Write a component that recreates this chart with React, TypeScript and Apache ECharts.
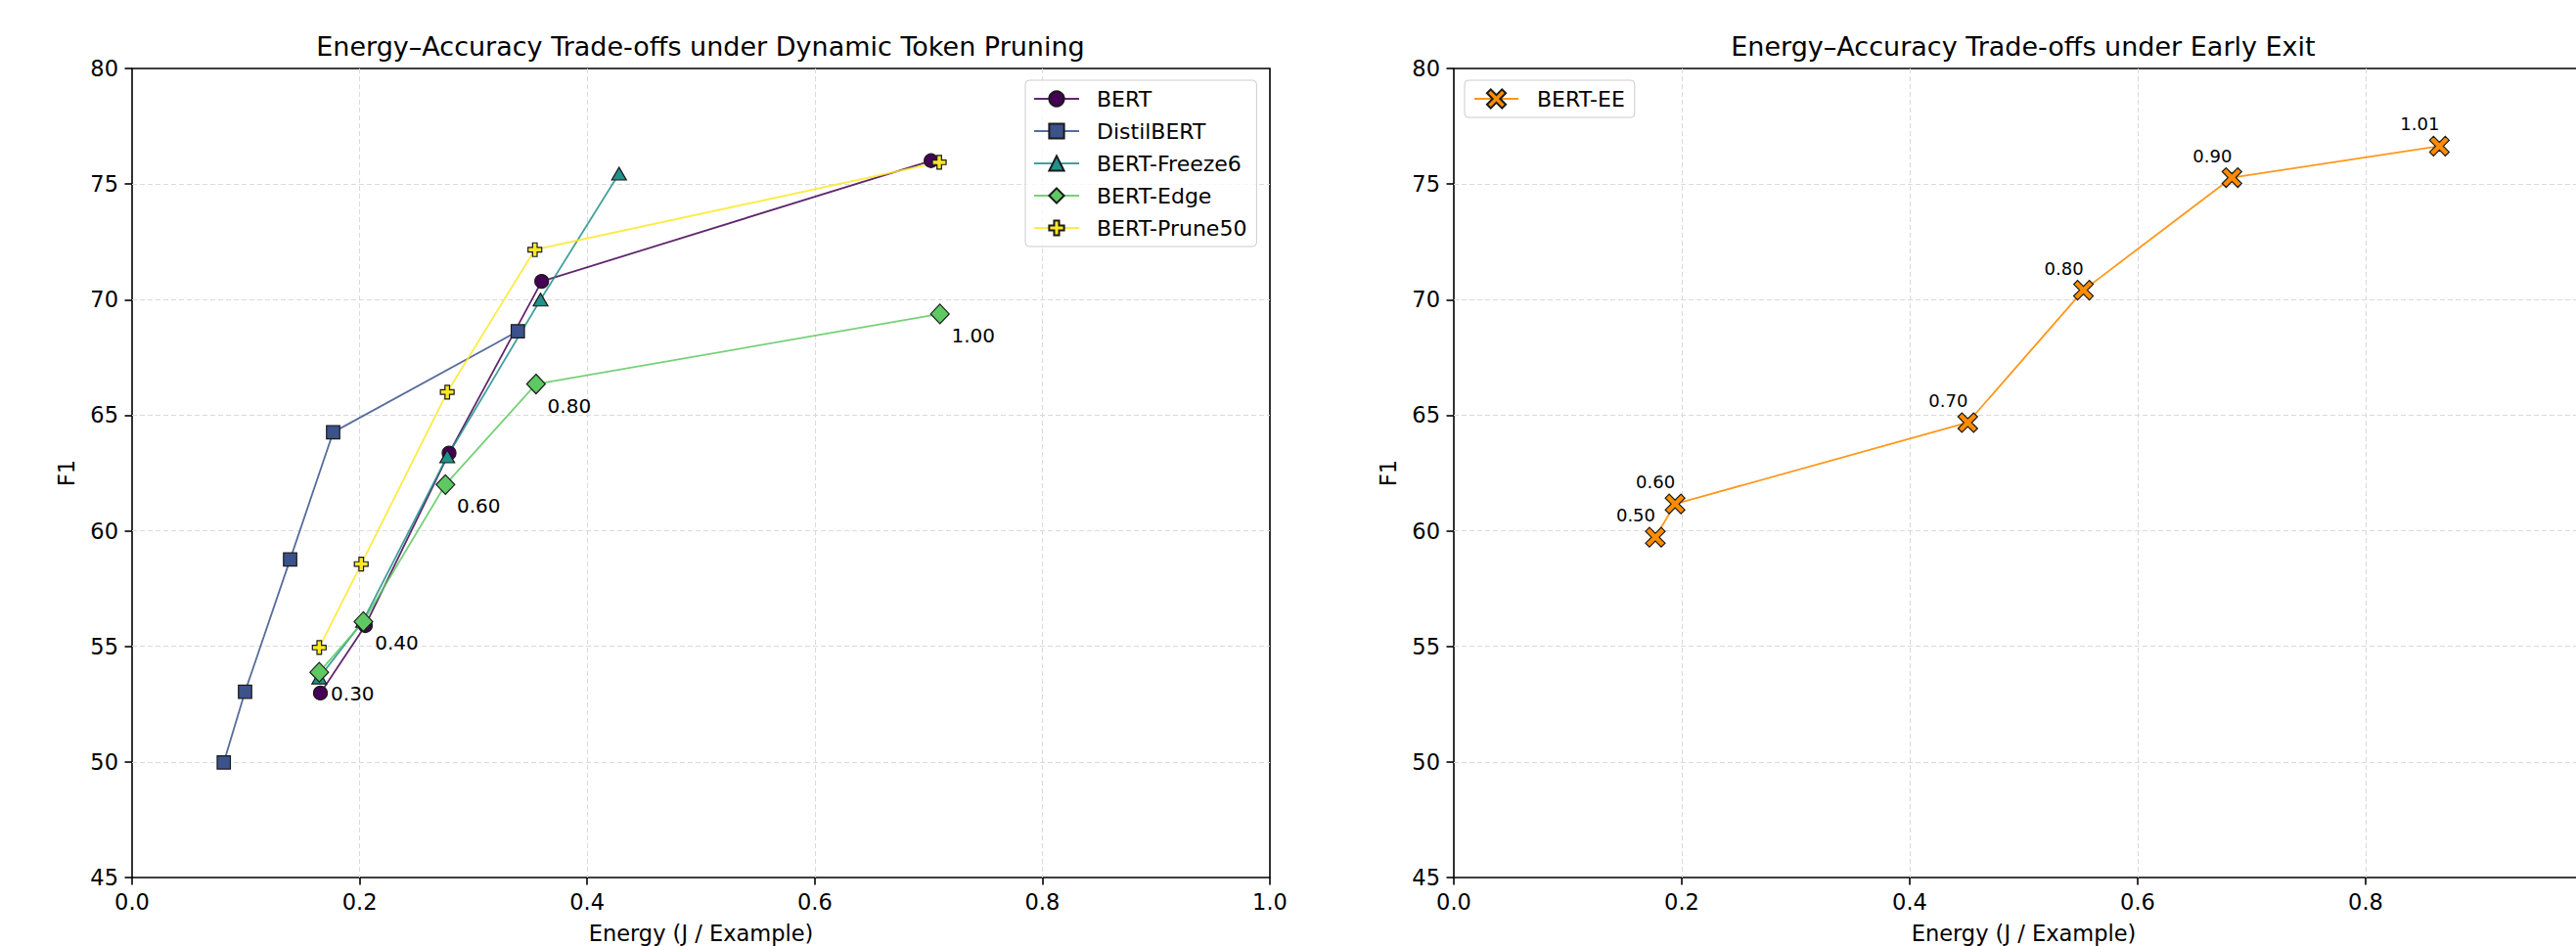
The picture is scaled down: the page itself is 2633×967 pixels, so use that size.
import React, { useEffect, useRef } from "react";
import * as echarts from "echarts";

// ---- Data ----
const bertEnergy = [0.1655, 0.205, 0.2786, 0.36, 0.7022];
const bertF1 = [52.98, 55.9, 63.36, 70.79, 76.01];
const distilEnergy = [0.0806, 0.0993, 0.1389, 0.1767, 0.339];
const distilF1 = [49.98, 53.04, 58.76, 64.26, 68.63];
const freezeEnergy = [0.1645, 0.203, 0.277, 0.359, 0.428];
const freezeF1 = [53.65, 56.1, 63.22, 70.0, 75.45];
const edgeEnergy = [0.1645, 0.2033, 0.2754, 0.355, 0.71];
const edgeF1 = [53.88, 56.07, 62.0, 66.35, 69.38];
const edgeLabels = ["0.30", "0.40", "0.60", "0.80", "1.00"];
const pruneEnergy = [0.1645, 0.2014, 0.277, 0.354, 0.7094];
const pruneF1 = [54.95, 58.56, 66.0, 72.16, 75.94];

const eeEnergy = [0.1768, 0.1941, 0.4509, 0.5524, 0.6827, 0.8647];
const eeF1 = [59.72, 61.16, 64.68, 70.41, 75.28, 76.64];
const eeLabels = ["0.50", "0.60", "0.70", "0.80", "0.90", "1.01"];

const leftTitle = "Energy–Accuracy Trade-offs under Dynamic Token Pruning";
const rightTitle = "Energy–Accuracy Trade-offs under Early Exit";
const xName = "Energy (J / Example)";
const yName = "F1";

const FONT = "DejaVu Sans";
const PLUS = "path://M4,0 L8,0 L8,4 L12,4 L12,8 L8,8 L8,12 L4,12 L4,8 L0,8 L0,4 L4,4 Z";
const XMARK = "path://M0,2 L2,0 L5,3 L8,0 L10,2 L7,5 L10,8 L8,10 L5,7 L2,10 L0,8 L3,5 Z";

const zip = (a: number[], b: number[]) => a.map((v, i) => [v, b[i]]);

const gridLine = {
  show: true,
  showMinLine: false,
  showMaxLine: false,
  lineStyle: { color: "#dadada", width: 1, type: [5, 3] },
};

function makeX(gridIndex: number, showMax: boolean) {
  return {
    type: "value",
    gridIndex,
    min: 0,
    max: 1,
    interval: 0.2,
    name: xName,
    nameLocation: "middle",
    nameGap: 45,
    nameTextStyle: { fontSize: 22.5, fontFamily: FONT, color: "#000" },
    axisLine: { show: false },
    axisTick: { show: true, length: 7.5, lineStyle: { color: "#000", width: 1.6 } },
    axisLabel: {
      fontSize: 22.5,
      fontFamily: FONT,
      color: "#000",
      margin: 13,
      showMaxLabel: showMax,
      formatter: (v: number) => v.toFixed(1),
    },
    splitLine: gridLine,
  };
}

function makeY(gridIndex: number) {
  return {
    type: "value",
    gridIndex,
    min: 45,
    max: 80,
    interval: 5,
    name: yName,
    nameLocation: "middle",
    nameGap: 56,
    nameTextStyle: { fontSize: 22.5, fontFamily: FONT, color: "#000" },
    axisLine: { show: false },
    axisTick: { show: true, length: 7.5, lineStyle: { color: "#000", width: 1.6 } },
    axisLabel: { fontSize: 22.5, fontFamily: FONT, color: "#000", margin: 14 },
    splitLine: gridLine,
  };
}

function leftSeries(
  name: string,
  xs: number[],
  ys: number[],
  color: string,
  symbol: string,
  symbolSize: number | number[],
  labels?: string[]
) {
  return {
    type: "line",
    name,
    xAxisIndex: 0,
    yAxisIndex: 0,
    data: zip(xs, ys),
    symbol,
    symbolSize,
    showSymbol: true,
    silent: true,
    itemStyle: { color, borderColor: "#1a1a1a", borderWidth: 1.2, opacity: 1 },
    lineStyle: { color, width: 1.8, opacity: 0.85 },
    label: labels
      ? {
          show: true,
          position: "inside",
          offset: [34, 22],
          fontSize: 20,
          fontFamily: FONT,
          color: "#000",
          formatter: (p: any) => labels[p.dataIndex],
        }
      : { show: false },
  };
}

export default function App() {
  const ref = useRef<HTMLDivElement>(null);
  useEffect(() => {
    if (!ref.current) return;
    const chart = echarts.init(ref.current, undefined, { renderer: "svg" });
    const gridBase = {
      top: 70,
      height: 827,
      show: true,
      borderColor: "#000",
      borderWidth: 1.6,
      backgroundColor: "transparent",
      containLabel: false,
      outerBoundsMode: "none",
    };
    const option: any = {
      animation: false,
      backgroundColor: "#fff",
      grid: [
        { ...gridBase, left: 135, width: 1163 },
        { ...gridBase, left: 1486, width: 1165 },
      ],
      xAxis: [makeX(0, true), makeX(1, false)],
      yAxis: [makeY(0), makeY(1)],
      graphic: [
        { type: "text", x: 716, y: 47, style: { text: leftTitle, fontSize: 27, fontFamily: FONT, fill: "#000", align: "center", verticalAlign: "middle", textAlign: "center", textVerticalAlign: "middle" } },
        { type: "text", x: 2068, y: 47, style: { text: rightTitle, fontSize: 27, fontFamily: FONT, fill: "#000", align: "center", verticalAlign: "middle", textAlign: "center", textVerticalAlign: "middle" } },
      ],
      legend: [
        {
          data: ["BERT", "DistilBERT", "BERT-Freeze6", "BERT-Edge", "BERT-Prune50"],
          orient: "vertical",
          left: 1048,
          top: 82,
          itemWidth: 46,
          itemHeight: 19,
          itemGap: 11,
          padding: [8, 10, 8, 8],
          backgroundColor: "rgba(255,255,255,0.8)",
          borderColor: "#cccccc",
          borderWidth: 1,
          borderRadius: 4,
          selectedMode: false,
          textStyle: { fontSize: 22, lineHeight: 22, fontFamily: FONT, color: "#000", padding: [0, 0, 0, 13] },
        },
        {
          data: ["BERT-EE"],
          orient: "vertical",
          left: 1497,
          top: 82,
          itemWidth: 45,
          itemHeight: 24,
          padding: [8, 10, 8, 9],
          backgroundColor: "rgba(255,255,255,0.8)",
          borderColor: "#cccccc",
          borderWidth: 1,
          borderRadius: 4,
          selectedMode: false,
          textStyle: { fontSize: 22, lineHeight: 22, fontFamily: FONT, color: "#000", padding: [0, 0, 0, 14] },
        },
      ],
      series: [
        leftSeries("BERT", bertEnergy, bertF1, "#440154", "circle", 14),
        leftSeries("DistilBERT", distilEnergy, distilF1, "#3b528b", "rect", 13.5),
        leftSeries("BERT-Freeze6", freezeEnergy, freezeF1, "#21918c", "triangle", [15, 13]),
        leftSeries("BERT-Edge", edgeEnergy, edgeF1, "#5ec962", "diamond", [19, 20], edgeLabels),
        leftSeries("BERT-Prune50", pruneEnergy, pruneF1, "#fde725", PLUS, 14),
        {
          type: "line",
          name: "BERT-EE",
          xAxisIndex: 1,
          yAxisIndex: 1,
          data: zip(eeEnergy, eeF1),
          symbol: XMARK,
          symbolSize: 20,
          showSymbol: true,
          silent: true,
          itemStyle: { color: "#ff8c00", borderColor: "#1a1a1a", borderWidth: 1.2, opacity: 1 },
          lineStyle: { color: "#ff8c00", width: 1.8, opacity: 0.9 },
          label: {
            show: true,
            position: "inside",
            offset: [-20, -22.5],
            fontSize: 18,
            fontFamily: FONT,
            color: "#000",
            formatter: (p: any) => eeLabels[p.dataIndex],
          },
        },
      ],
    };
    chart.setOption(option);
    return () => chart.dispose();
  }, []);
  return (
    <div
      ref={ref}
      style={{ position: "fixed", left: 0, top: 0, width: 2633, height: 967, background: "#fff" }}
    />
  );
}
